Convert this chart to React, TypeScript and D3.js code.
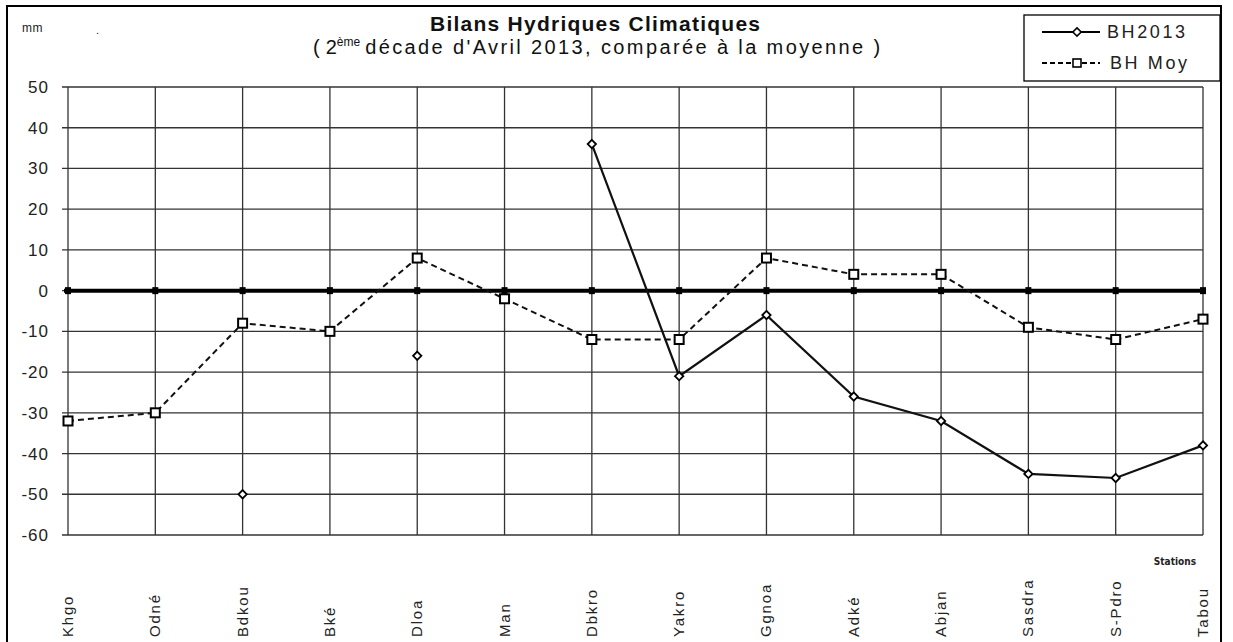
import { useEffect, useRef } from "react";
import * as d3 from "d3";

const stations = ["Khgo", "Odné", "Bdkou", "Bké", "Dloa", "Man", "Dbkro", "Yakro", "Ggnoa", "Adké", "Abjan", "Sasdra", "S-Pdro", "Tabou"];
const bh2013: (number | null)[] = [null, null, -50, null, -16, null, 36, -21, -6, -26, -32, -45, -46, -38];
const bhMoy = [-32, -30, -8, -10, 8, -2, -12, -12, 8, 4, 4, -9, -12, -7];
const yTicks = [50, 40, 30, 20, 10, 0, -10, -20, -30, -40, -50, -60];

const App = () => {
  const svgRef = useRef<SVGSVGElement | null>(null);

  useEffect(() => {
    if (!svgRef.current) return;
    const width = 1233;
    const height = 642;
    const svg = d3.select(svgRef.current);
    svg.selectAll("*").remove();
    svg.attr("width", width).attr("height", height);

    const font = "'Liberation Sans', Arial, sans-serif";
    const x = d3.scalePoint<string>().domain(stations).range([68, 1203]);
    const y = d3.scaleLinear().domain([-60, 50]).range([535, 87]);

    // page frame
    svg.append("rect").attr("x", 7).attr("y", 6).attr("width", 1214).attr("height", 640)
      .attr("fill", "#fff").attr("stroke", "#000").attr("stroke-width", 2);

    const grid = svg.append("g");
    // horizontal grid + ticks
    grid.selectAll("line.h").data(yTicks).enter().append("line")
      .attr("x1", 62).attr("x2", 1203)
      .attr("y1", (d) => y(d)).attr("y2", (d) => y(d))
      .attr("stroke", "#333").attr("stroke-width", 1.3);
    // vertical grid
    grid.selectAll("line.v").data(stations).enter().append("line")
      .attr("x1", (d) => x(d)!).attr("x2", (d) => x(d)!)
      .attr("y1", y(50)).attr("y2", y(-60))
      .attr("stroke", "#333").attr("stroke-width", 1.3);

    // y labels
    svg.append("g").selectAll("text").data(yTicks).enter().append("text")
      .attr("x", 49).attr("y", (d) => y(d) + 6)
      .attr("text-anchor", "end").attr("font-family", font).attr("font-size", 17)
      .attr("letter-spacing", 1).attr("fill", "#222").text((d) => d);

    // zero line
    svg.append("line").attr("x1", 64).attr("x2", 1205).attr("y1", y(0)).attr("y2", y(0))
      .attr("stroke", "#000").attr("stroke-width", 4);
    svg.append("g").selectAll("rect").data(stations).enter().append("rect")
      .attr("x", (d) => x(d)! - 3).attr("y", y(0) - 3.5).attr("width", 6).attr("height", 7)
      .attr("fill", "#000");

    // BH Moy dashed
    const lineMoy = d3.line<number>().x((_, i) => x(stations[i])!).y((d) => y(d));
    svg.append("path").attr("d", lineMoy(bhMoy)!).attr("fill", "none")
      .attr("stroke", "#111").attr("stroke-width", 2).attr("stroke-dasharray", "6,4");
    svg.append("g").selectAll("rect").data(bhMoy).enter().append("rect")
      .attr("x", (_, i) => x(stations[i])! - 4.5).attr("y", (d) => y(d) - 4.5)
      .attr("width", 9).attr("height", 9).attr("fill", "#fff").attr("stroke", "#000").attr("stroke-width", 2);

    // BH2013 solid
    const line13 = d3.line<number | null>().defined((d) => d !== null)
      .x((_, i) => x(stations[i])!).y((d) => y(d as number));
    svg.append("path").attr("d", line13(bh2013)!).attr("fill", "none")
      .attr("stroke", "#111").attr("stroke-width", 2.2);
    const diamond = d3.symbol().type(d3.symbolDiamond2).size(44);
    svg.append("g").selectAll("path").data(bh2013.map((v, i) => ({ v, s: stations[i] })).filter((d) => d.v !== null))
      .enter().append("path")
      .attr("d", diamond()!)
      .attr("transform", (d) => `translate(${x(d.s)},${y(d.v as number)})`)
      .attr("fill", "#fff").attr("stroke", "#000").attr("stroke-width", 1.8);

    // station labels
    svg.append("g").selectAll("text").data(stations).enter().append("text")
      .attr("transform", (d) => `translate(${x(d)! + 5},637) rotate(-90)`)
      .attr("font-family", font).attr("font-size", 15).attr("letter-spacing", 1.8)
      .attr("fill", "#222").text((d) => d);

    svg.append("text").attr("x", 1196).attr("y", 565).attr("text-anchor", "end")
      .attr("font-family", "'Liberation Sans Narrow', 'DejaVu Sans Condensed', sans-serif")
      .attr("font-size", 10).attr("font-weight", "bold").attr("fill", "#222").text("Stations");

    // title
    svg.append("text").attr("x", 430).attr("y", 31).attr("textLength", 330).attr("lengthAdjust", "spacing")
      .attr("font-family", font).attr("font-size", 21).attr("font-weight", "bold").attr("fill", "#111")
      .text("Bilans Hydriques Climatiques");
    const sub = svg.append("text").attr("x", 313).attr("y", 54)
      .attr("font-family", font).attr("font-size", 20).attr("fill", "#111");
    sub.append("tspan").text("(");
    sub.append("tspan").attr("dx", 6).text("2");
    sub.append("tspan").attr("dy", -8).attr("font-size", 12).text("ème");
    sub.append("tspan").attr("dy", 8).attr("dx", 5).attr("textLength", 515).attr("lengthAdjust", "spacing")
      .text("décade d'Avril  2013, comparée à la moyenne )");

    svg.append("text").attr("x", 22).attr("y", 32).attr("font-family", font).attr("font-size", 12)
      .attr("letter-spacing", 0.5).attr("fill", "#222").text("mm");
    svg.append("text").attr("x", 96).attr("y", 34).attr("font-family", font).attr("font-size", 11)
      .attr("fill", "#222").text(".");

    // legend
    const lg = svg.append("g");
    lg.append("rect").attr("x", 1024).attr("y", 15).attr("width", 196).attr("height", 66)
      .attr("fill", "#fff").attr("stroke", "#000").attr("stroke-width", 1.3);
    lg.append("line").attr("x1", 1042).attr("x2", 1100).attr("y1", 32).attr("y2", 32)
      .attr("stroke", "#000").attr("stroke-width", 2);
    lg.append("path").attr("d", diamond()!).attr("transform", "translate(1077,32)")
      .attr("fill", "#fff").attr("stroke", "#000").attr("stroke-width", 1.6);
    lg.append("text").attr("x", 1107).attr("y", 38).attr("textLength", 78).attr("lengthAdjust", "spacing")
      .attr("font-family", font).attr("font-size", 18).attr("fill", "#222").text("BH2013");
    lg.append("line").attr("x1", 1042).attr("x2", 1100).attr("y1", 63).attr("y2", 63)
      .attr("stroke", "#000").attr("stroke-width", 2).attr("stroke-dasharray", "5,3");
    lg.append("rect").attr("x", 1073).attr("y", 59).attr("width", 8).attr("height", 8)
      .attr("fill", "#fff").attr("stroke", "#000").attr("stroke-width", 1.6);
    lg.append("text").attr("x", 1110).attr("y", 69).attr("textLength", 77).attr("lengthAdjust", "spacing")
      .attr("font-family", font).attr("font-size", 18).attr("fill", "#222").text("BH Moy");
  }, []);

  return <svg ref={svgRef} style={{ position: "absolute", left: 0, top: 0, display: "block" }}></svg>;
};

export default App;
